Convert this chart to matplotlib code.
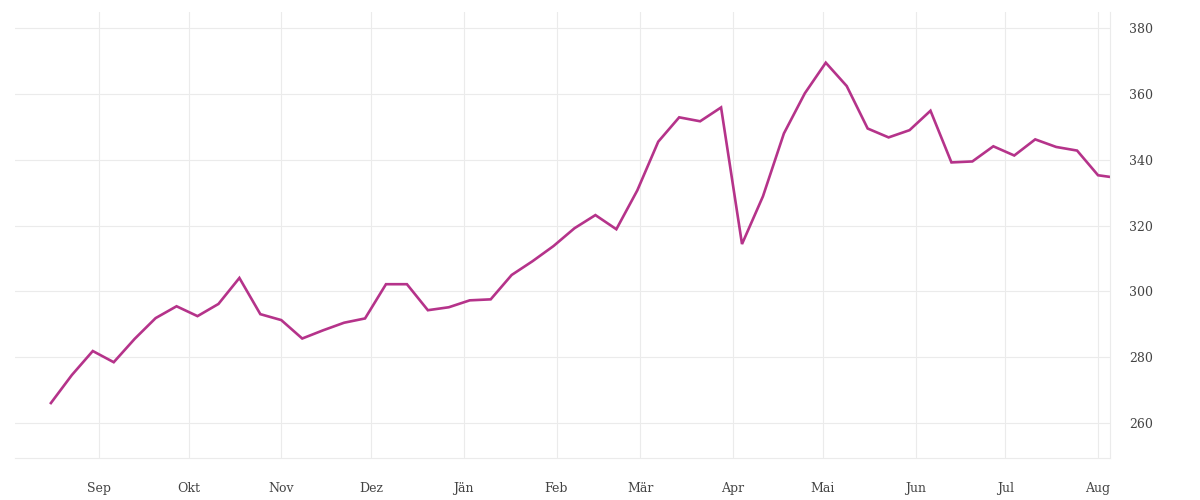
import matplotlib
matplotlib.use('Agg')
import matplotlib.pyplot as plt
import numpy as np
import pandas as pd

# Wochenwerte ab 16. Aug (letzter Punkt: angebrochene Woche)
werte = [266.1, 274.6, 281.9, 278.5, 285.6, 291.9, 295.5, 292.5, 296.2, 304.1,
         293.1, 291.3, 285.7, 288.2, 290.5, 291.8, 302.2, 302.2, 294.3, 295.2,
         297.3, 297.6, 305.0, 309.2, 313.8, 319.2, 323.2, 318.9, 330.7, 345.5,
         352.9, 351.7, 355.9, 314.4, 328.9, 348.0, 360.2, 369.5, 362.4, 349.5,
         346.8, 349.0, 354.9, 339.2, 339.5, 344.1, 341.3, 346.2, 343.9, 342.8,
         335.3, 334.8]
daten = list(pd.date_range('2022-08-16', periods=51, freq='7D')) + [pd.Timestamp('2023-08-05')]

monate = pd.date_range('2022-09-01', '2023-08-01', freq='MS')
monat_labels = ['Sep', 'Okt', 'Nov', 'Dez', 'Jän', 'Feb', 'Mär', 'Apr', 'Mai', 'Jun', 'Jul', 'Aug']
y_ticks = [260, 280, 300, 320, 340, 360, 380]

plt.rcParams['font.family'] = ['DejaVu Serif']

fig = plt.figure(figsize=(12, 5), dpi=100)
ax = fig.add_axes([0.0125, 0.084, 0.9125, 0.892])

ax.plot(daten, werte, color='#b5338a', linewidth=1.9, solid_joinstyle='miter')

ax.set_xlim(pd.Timestamp('2022-08-04'), pd.Timestamp('2023-08-05'))
ax.set_ylim(249.4, 384.9)

ax.set_xticks(monate)
ax.set_xticklabels(monat_labels)
ax.set_yticks(y_ticks)
ax.yaxis.tick_right()

ax.grid(True, color='#ebebeb', linewidth=0.8)
ax.set_axisbelow(True)
for s in ['top', 'left']:
    ax.spines[s].set_visible(False)
ax.spines['right'].set_color('#ebebeb')
ax.spines['bottom'].set_color('#ebebeb')

ax.tick_params(axis='both', length=0, labelsize=9, labelcolor='#444444')
ax.tick_params(axis='x', pad=17)
ax.tick_params(axis='y', pad=14)

fig.savefig('out.png', dpi=100)
